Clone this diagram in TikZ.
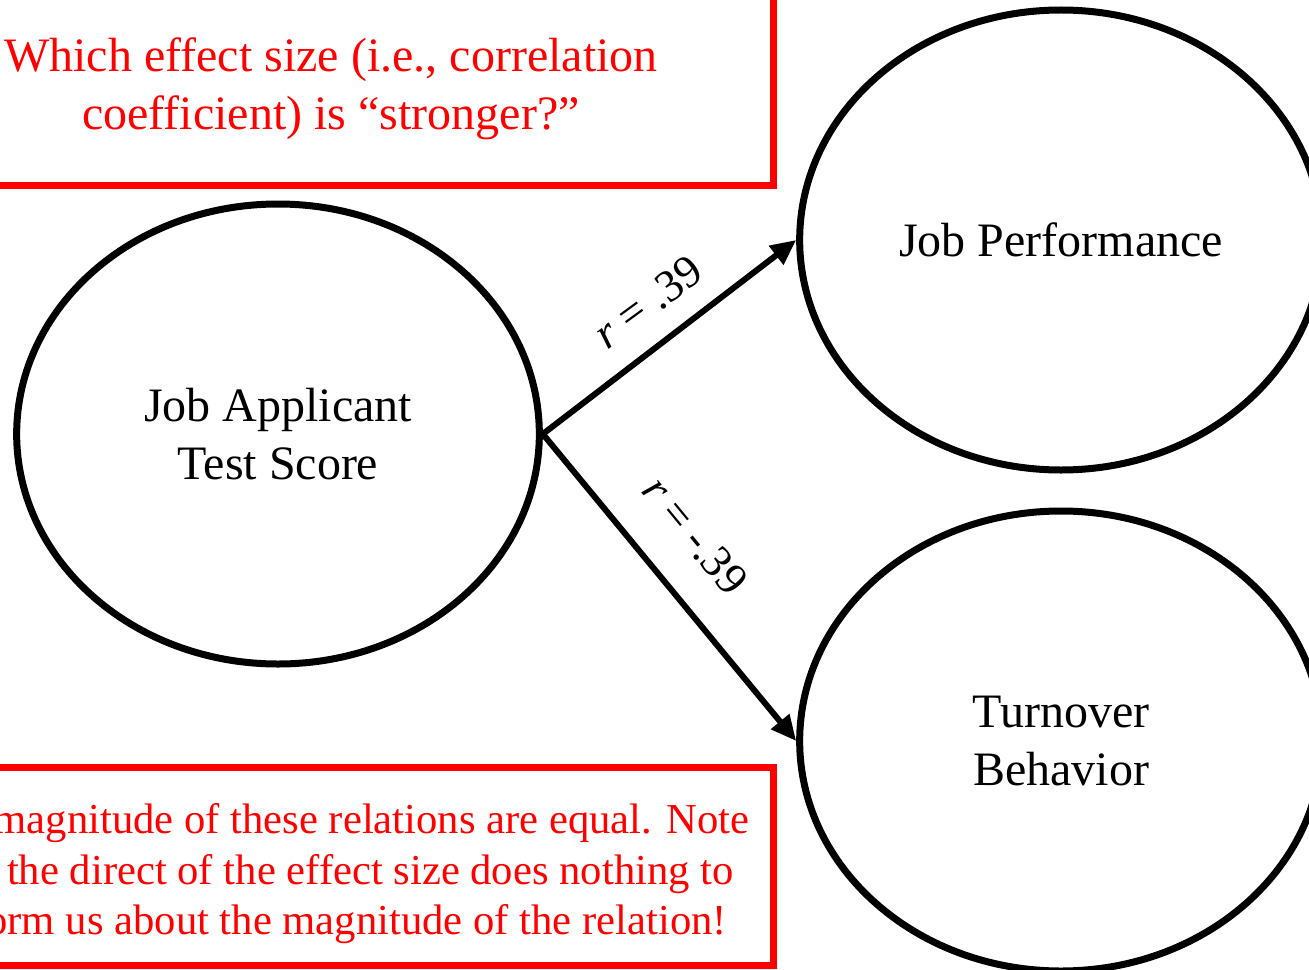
\documentclass[tikz,border=0pt]{standalone}
\usepackage{fontspec}
\setmainfont{Liberation Serif}
\usetikzlibrary{shapes.geometric,arrows.meta}

\begin{document}
\begin{tikzpicture}[x=0.75pt,y=0.75pt,yscale=-1,xscale=1,
  var/.style={draw, line width=5.25pt, ellipse, inner sep=0pt, minimum width=392pt, minimum height=345pt, align=center, font=\fontsize{36}{43}\selectfont},
  note/.style={draw=red, line width=5.25pt},
  notetext/.style={text=red, align=center},
  link/.style={line width=4.5pt, -{Triangle[length=19pt,width=17pt]}},
  rlab/.style={anchor=south, inner xsep=0pt, font=\fontsize{34}{40}\selectfont}]
\useasboundingbox (0,0) rectangle (1309,970);
\clip (0,0) rectangle (1309,970);

%Shape: Rectangle (question)
\draw[note] (-110,-30) rectangle (773,185);
\node[notetext, font=\fontsize{36}{43.5}\selectfont] (ask) at (331,89) {Which effect size (i.e., correlation\\coefficient) is “stronger?”};

%Shape: Rectangle (answer)
\draw[note] (-110,767) rectangle (773,965);
\node[notetext, font=\fontsize{32}{37.9}\selectfont] (answer) at (333,874) {The magnitude of these relations are equal. Note\\that the direct of the effect size does nothing to\\inform us about the magnitude of the relation!};

%Shape: Ellipse
\node[var] (applicant) at (278,434) {Job Applicant\\Test Score};
\node[var] (perf) at (1061,240) {Job Performance};
\node[var] (turnover) at (1061,741) {Turnover\\Behavior};

%Straight Lines
\draw[link] (applicant.east) -- node[rlab, rotate=36.2, inner ysep=17pt, pos=0.51] (rpos) {\textit{r} = .39} (perf.west);
\draw[link] (applicant.east) -- node[rlab, rotate=-50.6, inner ysep=26pt, pos=0.44] (rneg) {\textit{r} = -.39} (turnover.west);
\end{tikzpicture}
\end{document}
